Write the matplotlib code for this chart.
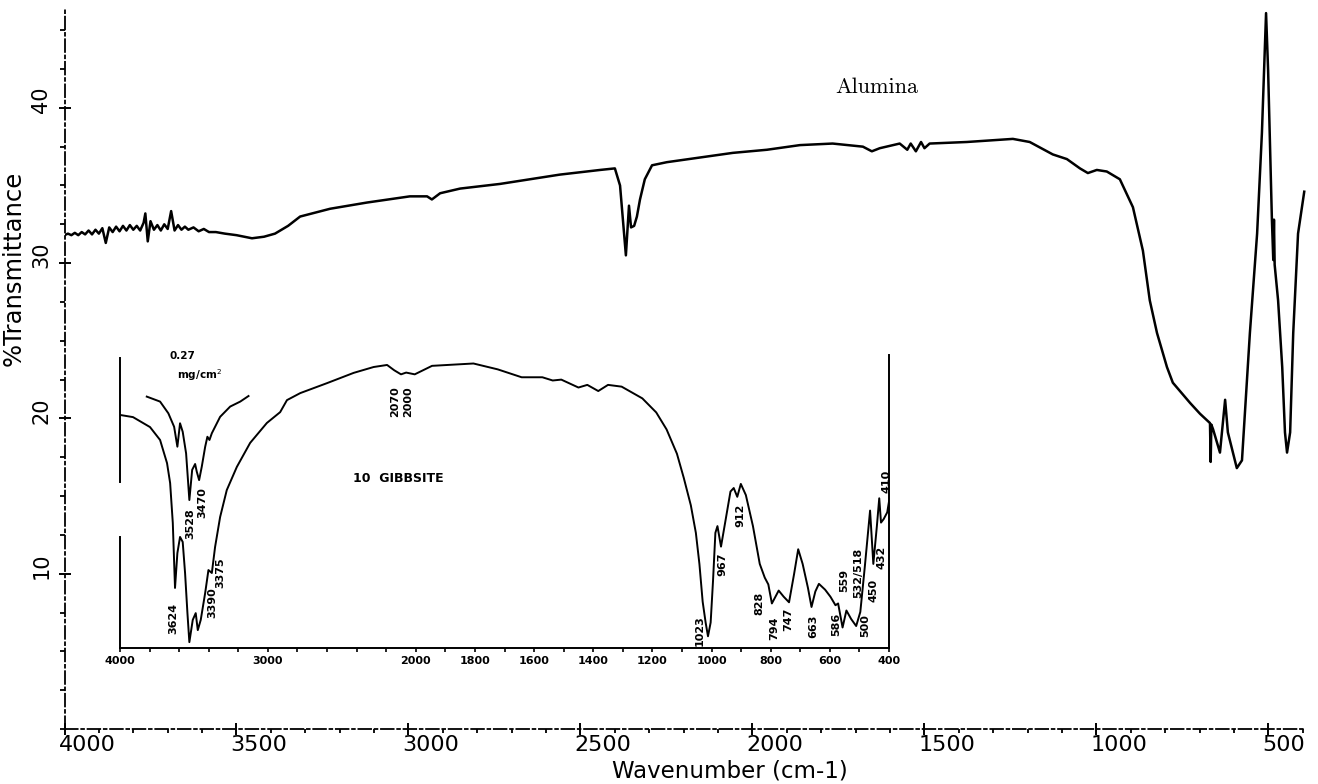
import numpy as np
import matplotlib
matplotlib.use('Agg')
import matplotlib.pyplot as plt
from matplotlib.ticker import FixedLocator, MultipleLocator
import matplotlib.transforms as mtransforms

# ---------------- main spectrum: Alumina ----------------
main_wn = [4000, 3990, 3980, 3970, 3960, 3950, 3940, 3930, 3920, 3910, 3900, 3890, 3880,
           3870, 3860, 3850, 3840, 3830, 3820, 3810, 3800, 3790, 3780, 3770, 3765, 3758,
           3750, 3740, 3730, 3720, 3710, 3700, 3690, 3680, 3670, 3660, 3650, 3640, 3625,
           3610, 3595, 3580, 3560, 3534, 3500, 3455, 3420,
           3388, 3350, 3315, 3228, 3121, 2996, 2946, 2932, 2908, 2850, 2734, 2560, 2443,
           2400, 2385, 2368, 2359, 2353, 2344, 2336, 2327, 2313, 2292, 2249, 2153, 2057,
           1958, 1862, 1767, 1679, 1653, 1630, 1572, 1550, 1540, 1525, 1510, 1500, 1485,
           1377, 1243, 1194, 1127, 1086, 1048, 1025, 999, 970, 932, 894, 865, 845, 824,
           795, 778, 728, 699, 670, 668, 666, 661, 641, 626, 618, 592, 577, 554, 533, 519,
           507, 501, 490, 486, 484, 482, 472, 460, 452, 446, 437, 428, 414, 396]
main_T = [31.8, 31.9, 31.8, 31.95, 31.8, 32.0, 31.85, 32.1, 31.85, 32.15, 31.9, 32.25, 31.3,
          32.3, 32.0, 32.35, 32.05, 32.4, 32.1, 32.45, 32.15, 32.4, 32.1, 32.6, 33.2, 31.4,
          32.7, 32.15, 32.45, 32.1, 32.5, 32.2, 33.35, 32.1, 32.45, 32.15, 32.35, 32.15, 32.3,
          32.05, 32.2, 32.0, 32.0, 31.9, 31.8, 31.6, 31.7,
          31.9, 32.4, 33.0, 33.5, 33.9, 34.3, 34.3, 34.1, 34.5, 34.8, 35.1, 35.7, 36.0,
          36.1, 35.0, 30.5, 33.7, 32.3, 32.4, 33.0, 34.1, 35.4, 36.3, 36.5, 36.8, 37.1,
          37.3, 37.6, 37.7, 37.5, 37.2, 37.4, 37.7, 37.3, 37.7, 37.2, 37.8, 37.4, 37.7,
          37.8, 38.0, 37.8, 37.0, 36.7, 36.1, 35.8, 36.0, 35.9, 35.4, 33.6, 30.8, 27.6, 25.5,
          23.3, 22.3, 21.0, 20.3, 19.7, 17.2, 19.6, 19.3, 17.8, 21.2, 19.1, 16.8, 17.3, 25.5, 31.9, 38.4,
          46.1, 42.4, 32.8, 30.2, 32.8, 29.9, 27.6, 23.3, 19.1, 17.8, 19.1, 25.5, 31.9, 34.6]

main_xticks = [4000, 3500, 3000, 2500, 2000, 1500, 1000, 500]
main_xticklabels = ['4000', '3500', '3000', '2500', '2000', '1500', '1000', '500']
main_yticks = [10, 20, 30, 40]
main_yticklabels = ['10', '20', '30', '40']

# ---------------- inset spectrum: Gibbsite ----------------
gib_wn = [3995, 3912, 3797, 3729, 3682, 3661, 3643, 3628, 3612, 3594, 3576, 3560, 3544,
          3531, 3508, 3488, 3474, 3454, 3424, 3402, 3379, 3357, 3323, 3278, 3210, 3120,
          3007, 2917, 2871, 2781, 2600, 2420, 2285, 2194, 2146, 2100, 2065, 2007, 1945,
          1805, 1723, 1642, 1572, 1537, 1508, 1450, 1420, 1383, 1350, 1304, 1234, 1187,
          1152, 1117, 1094, 1070, 1053, 1041, 1030, 1020, 1012, 1003, 995, 987, 980, 968,
          954, 936, 925, 913, 901, 884, 860, 837, 820, 808, 796, 773, 756, 738, 721, 707,
          692, 674, 662, 649, 637, 616, 598, 581, 572, 557, 544, 528, 511, 497, 482, 464,
          453, 441, 433, 427, 418, 406, 400]
gib_T = [79.5, 78.8, 75.4, 71.0, 63.1, 56.3, 42.7, 20.5, 32.4, 37.9, 36.2, 25.6, 11.9,
         2.0, 9.6, 11.9, 6.1, 9.6, 18.8, 26.6, 25.6, 34.5, 44.7, 53.9, 61.8, 70.0,
         76.8, 80.5, 84.6, 87.0, 90.4, 93.9, 95.9, 96.6, 94.8, 93.4, 94.0, 93.4, 96.3,
         97.1, 95.1, 92.4, 92.4, 91.3, 91.6, 88.9, 89.8, 87.7, 89.8, 89.2, 85.2, 80.4,
         74.6, 66.3, 58.1, 48.7, 39.3, 28.7, 15.8, 8.7, 4.0, 8.7, 22.9, 39.3, 41.6, 34.6,
         42.8, 53.4, 54.6, 51.6, 56.0, 52.2, 41.6, 28.7, 24.0, 21.7, 15.2, 19.6, 17.5, 15.6, 25.2, 33.7,
         28.7, 20.5, 14.0, 19.3, 21.9, 19.9, 17.5, 14.6, 15.2, 7.0, 12.8, 9.9, 7.5, 12.3, 27.5, 46.9,
         28.7, 41.6, 51.1, 42.8, 44.0, 46.3, 50.0]

thin_wn = [3819, 3729, 3673, 3634, 3612, 3594, 3576, 3553, 3531, 3512, 3492, 3481, 3465,
           3447, 3424, 3409, 3395, 3379, 3323, 3255, 3187, 3131]
thin_T = [85.8, 84.1, 80.1, 75.5, 68.7, 76.7, 73.8, 66.4, 50.5, 60.8, 62.8, 60.2, 57.3,
          61.9, 68.7, 72.1, 71.0, 73.3, 78.9, 82.4, 84.1, 86.0]

inset_major = [4000, 3000, 2000, 1800, 1600, 1400, 1200, 1000, 800, 600, 400]
inset_major_labels = ['4000', '3000', '2000', '1800', '1600', '1400', '1200', '1000', '800', '600', '400']
inset_minor = [3800, 3600, 3400, 3200, 2800, 2600, 2400, 2200, 1900, 1700, 1500, 1300,
               1100, 900, 700, 500]

peak_labels = ['3624', '3528', '3470', '3390', '3375', '2070', '2000', '1023', '967', '912',
               '828', '794', '747', '663', '586', '559', '532/518', '500', '450', '432', '410']
peak_label_wn = [3641, 3526, 3445, 3377, 3323, 2138, 2050, 1040, 965, 901,
                 837, 789, 739, 657, 580, 553, 505, 481, 451, 424, 407]
peak_label_T = [10.2, 42.3, 49.5, 15.4, 25.6, 84.0, 84.0, 6.1, 28.7, 45.4,
                15.4, 6.8, 9.9, 7.5, 8.2, 22.9, 25.6, 7.5, 19.8, 31.1, 56.7]

W, H = 1318, 784
fig = plt.figure(figsize=(W / 100, H / 100), dpi=100)

# ================= main axes =================
ax = fig.add_axes([64.5 / W, 55 / H, 1241.8 / W, 719 / H])
ax.plot(main_wn, main_T, color='black', lw=1.8, solid_joinstyle='round')
ax.set_xlim(4000, 390)
ax.set_ylim(0, 46.3)
for s in ['top', 'right']:
    ax.spines[s].set_visible(False)
for s in ['left', 'bottom']:
    ax.spines[s].set_linestyle((0, (7, 2, 1.5, 2)))
    ax.spines[s].set_linewidth(1.3)

ax.xaxis.set_major_locator(FixedLocator(main_xticks))
ax.xaxis.set_minor_locator(MultipleLocator(100))
ax.set_xticklabels(main_xticklabels)
ax.yaxis.set_major_locator(FixedLocator(main_yticks))
ax.yaxis.set_minor_locator(MultipleLocator(2.5))
ax.set_yticklabels(main_yticklabels)

ax.tick_params(axis='x', which='major', direction='inout', length=9, width=1.4, pad=0,
               labelsize=16)
ax.tick_params(axis='x', which='minor', direction='out', length=3, width=1.3)
ax.tick_params(axis='y', which='major', direction='inout', length=9, width=1.4, pad=5,
               labelsize=15, labelrotation=90)
ax.tick_params(axis='y', which='minor', direction='out', length=3.5, width=1.3)

off_x = mtransforms.ScaledTranslation(-6 / 100, 0, fig.dpi_scale_trans)
for lab in ax.get_xticklabels():
    lab.set_ha('left')
    lab.set_transform(lab.get_transform() + off_x)
off_y = mtransforms.ScaledTranslation(0, 8 / 100, fig.dpi_scale_trans)
for lab in ax.get_yticklabels():
    lab.set_va('center')
    lab.set_transform(lab.get_transform() + off_y)

ax.set_xlabel('Wavenumber (cm-1)', fontsize=16.5)
ax.xaxis.set_label_coords((730 - 64.5) / 1241.8, (729 - 771.5) / 719)
ax.xaxis.label.set_va('center')
ax.set_ylabel('%Transmittance', fontsize=17.5)
ax.yaxis.set_label_coords((14 - 64.5) / 1241.8, (729 - 268) / 719)
ax.yaxis.label.set_va('center')

ax.text((877 - 64.5) / 1241.8, (729 - 87) / 719, 'Alumina', transform=ax.transAxes,
        fontsize=16, family='cmr10', ha='center', va='center')

# ================= inset axes =================
def fwd(w):
    w = np.asarray(w, dtype=float)
    return np.where(w >= 2000, 1000 + (w - 2000) / 2.0, w - 1000)

def inv(v):
    v = np.asarray(v, dtype=float)
    return np.where(v >= 1000, 2000 + 2.0 * (v - 1000), v + 1000)

ax2 = fig.add_axes([120 / W, 136 / H, 769 / W, 293 / H])
ax2.set_facecolor('none')
ax2.set_xscale('function', functions=(fwd, inv))
ax2.plot(gib_wn, gib_T, color='black', lw=1.4)
ax2.plot(thin_wn, thin_T, color='black', lw=1.4)
ax2.set_xlim(4000, 400)
ax2.set_ylim(0, 100)
ax2.spines['top'].set_visible(False)
ax2.spines['left'].set_visible(False)
ax2.spines['right'].set_linewidth(1.4)
ax2.spines['bottom'].set_linewidth(1.4)
ax2.axvline(4000, ymin=0.567, ymax=0.99, color='black', lw=1.4, clip_on=False)
ax2.axvline(4000, ymin=0.0, ymax=0.379, color='black', lw=1.4, clip_on=False)
ax2.set_yticks([])
ax2.xaxis.set_major_locator(FixedLocator(inset_major))
ax2.xaxis.set_minor_locator(FixedLocator(inset_minor))
ax2.set_xticklabels(inset_major_labels)
ax2.tick_params(axis='x', which='both', direction='out', length=3, width=1.2, pad=3,
                labelsize=8)
for lab in ax2.get_xticklabels():
    lab.set_fontweight('bold')

for txt, w, t in zip(peak_labels, peak_label_wn, peak_label_T):
    ax2.text(w, t, txt, rotation=90, fontsize=8, fontweight='bold', ha='center',
             va='center')

ax2.text(3575, 99.5, '0.27', fontsize=7.5, fontweight='bold', ha='center', va='center')
ax2.text(3465, 93.0, 'mg/cm$^2$', fontsize=7.5, fontweight='bold', ha='center', va='center')
ax2.text(2121, 57.7, '10  GIBBSITE', fontsize=9, fontweight='bold', ha='center',
         va='center')

fig.savefig('out.png', dpi=100)
